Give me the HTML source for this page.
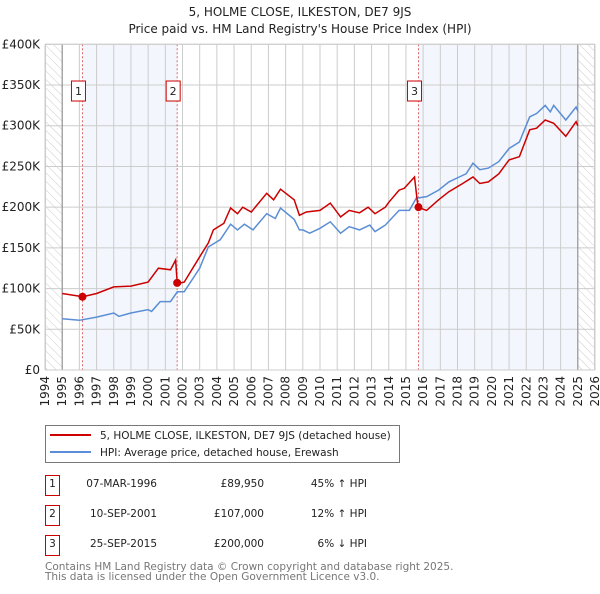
<!DOCTYPE html>
<html><head><meta charset="utf-8"><style>
body{margin:0;background:#fff;font-family:"DejaVu Sans","Liberation Sans",sans-serif;}
svg text{font-family:"DejaVu Sans","Liberation Sans",sans-serif;}
</style></head><body>
<svg id="c" width="600" height="590" viewBox="0 0 600 590" xmlns="http://www.w3.org/2000/svg">
<defs><pattern id="hatch" width="6" height="6" patternUnits="userSpaceOnUse" patternTransform="rotate(-45)"><line x1="0" y1="0" x2="0" y2="6" stroke="#ccc" stroke-width="1"/></pattern></defs>
<text x="300" y="16" text-anchor="middle" font-size="12" fill="#222">5, HOLME CLOSE, ILKESTON, DE7 9JS</text>
<text x="300" y="33" text-anchor="middle" font-size="12" fill="#222">Price paid vs. HM Land Registry's House Price Index (HPI)</text>
<g id="plot"></g>
<g>
<rect x="45.5" y="425.5" width="354" height="37" fill="#fff" stroke="#777"/>
<line x1="50" y1="435" x2="91" y2="435" stroke="#cc0000" stroke-width="2"/>
<text x="100" y="439" font-size="10.5" fill="#222">5, HOLME CLOSE, ILKESTON, DE7 9JS (detached house)</text>
<line x1="50" y1="452" x2="91" y2="452" stroke="#5b8ed6" stroke-width="2"/>
<text x="100" y="456" font-size="10.5" fill="#222">HPI: Average price, detached house, Erewash</text>
</g>
<g font-size="10.5" fill="#222">
<rect x="45.5" y="475.5" width="14" height="20" fill="#fff" stroke="#cc0000"/>
<text x="52.5" y="487" text-anchor="middle">1</text>
<text x="157" y="487" text-anchor="end">07-MAR-1996</text>
<text x="264" y="487" text-anchor="end">£89,950</text>
<text x="367" y="487" text-anchor="end">45% ↑ HPI</text>
<rect x="45.5" y="505.5" width="14" height="20" fill="#fff" stroke="#cc0000"/>
<text x="52.5" y="517" text-anchor="middle">2</text>
<text x="157" y="517" text-anchor="end">10-SEP-2001</text>
<text x="264" y="517" text-anchor="end">£107,000</text>
<text x="367" y="517" text-anchor="end">12% ↑ HPI</text>
<rect x="45.5" y="535.5" width="14" height="20" fill="#fff" stroke="#cc0000"/>
<text x="52.5" y="547" text-anchor="middle">3</text>
<text x="157" y="547" text-anchor="end">25-SEP-2015</text>
<text x="264" y="547" text-anchor="end">£200,000</text>
<text x="367" y="547" text-anchor="end">6% ↓ HPI</text>
</g>
<text x="45" y="570" font-size="10.5" fill="#777">Contains HM Land Registry data © Crown copyright and database right 2025.</text>
<text x="45" y="580" font-size="10.5" fill="#777">This data is licensed under the Open Government Licence v3.0.</text>
</svg>
<script>
const yTicks=[0,50,100,150,200,250,300,350,400];
const yTickLabels=["£0","£50K","£100K","£150K","£200K","£250K","£300K","£350K","£400K"];
const xYears=[1994,1995,1996,1997,1998,1999,2000,2001,2002,2003,2004,2005,2006,2007,2008,2009,2010,2011,2012,2013,2014,2015,2016,2017,2018,2019,2020,2021,2022,2023,2024,2025,2026];
const hpiT=[1995,1995.5,1996,1997,1998,1998.3,1999,2000,2000.2,2000.7,2001.3,2001.7,2002.1,2003,2003.5,2004.2,2004.8,2005.2,2005.6,2006.1,2006.9,2007.4,2007.7,2008.5,2008.8,2009,2009.4,2010,2010.6,2011.2,2011.7,2012.3,2012.9,2013.2,2013.8,2014.6,2015.2,2015.6,2016.2,2016.9,2017.5,2018.1,2018.5,2018.9,2019.3,2019.8,2020.4,2021,2021.6,2022.2,2022.6,2023.1,2023.4,2023.6,2024.3,2024.9,2025];
const hpiV=[63,62,61,65,70,66,70,74,72,84,84,96,96,125,151,160,179,172,179,172,192,186,199,185,172,172,168,174,182,168,176,172,178,170,178,196,196,211,213,221,231,237,241,254,246,248,256,272,280,311,315,325,317,325,307,323,318];
const priceT=[1995,1996.2,1997,1998,1999,2000,2000.6,2001.3,2001.6,2001.7,2002.1,2003,2003.5,2003.8,2004.4,2004.8,2005.2,2005.5,2006,2006.9,2007.3,2007.7,2008.5,2008.8,2009.2,2010,2010.6,2011.2,2011.7,2012.3,2012.8,2013.2,2013.8,2014,2014.6,2014.9,2015.5,2015.7,2016.2,2016.9,2017.5,2018.3,2018.9,2019.3,2019.8,2020.4,2021,2021.6,2022.2,2022.6,2023.1,2023.6,2024.3,2024.9,2025];
const priceV=[94,90,94,102,103,108,125,123,135,106,108,139,156,172,180,199,192,200,194,217,209,222,209,190,194,196,205,188,196,193,200,192,200,206,221,223,237,200,196,209,219,229,237,229,231,241,258,262,295,297,307,303,287,305,300];
const saleT=[1996.18,2001.69,2015.73];
const saleV=[89.95,107,200];
const saleLabels=["1","2","3"];
const X0=45,X1=595,Y0=370,Y1=44.3;
const x=t=>X0+(t-1994)/(2026-1994)*(X1-X0);
const y=v=>Y0-v/400*(Y0-Y1);
const NS="http://www.w3.org/2000/svg";
const g=document.getElementById('plot');
function mk(tag,at,parent){const e=document.createElementNS(NS,tag);for(const k in at)e.setAttribute(k,at[k]);(parent||g).appendChild(e);return e;}
let b1=mk('rect',{x:x(saleT[0]),y:Y1,width:x(saleT[1])-x(saleT[0]),height:Y0-Y1,fill:'#eef3fc',opacity:0.7});


let b2=mk('rect',{x:x(saleT[2]),y:Y1,width:x(2025)-x(saleT[2]),height:Y0-Y1,fill:'#eef3fc',opacity:0.7});


let h1=mk('rect',{x:X0,y:Y1,width:x(1995)-X0,height:Y0-Y1,fill:'url(#hatch)'});


let h2=mk('rect',{x:x(2025),y:Y1,width:X1-x(2025),height:Y0-Y1,fill:'url(#hatch)'});


xYears.forEach(t=>{let l=mk('line',{x1:x(t),x2:x(t),y1:Y1,y2:Y0,stroke:'#ccc','stroke-width':1});


let tx=mk('text',{x:0,y:0,'font-size':12,fill:'#222','text-anchor':'end',transform:`translate(${x(t)+4},${Y0+6}) rotate(-90)`});
tx.textContent=t;

});
yTicks.forEach((v,i)=>{let l=mk('line',{x1:X0,x2:X1,y1:y(v),y2:y(v),stroke:'#ccc','stroke-width':1});


let tx=mk('text',{x:40,y:y(v)+4,'font-size':12,fill:'#222','text-anchor':'end'});
tx.textContent=yTickLabels[i];

});
let v1=mk('line',{x1:x(1995),x2:x(1995),y1:Y1,y2:Y0,stroke:'#888','stroke-width':1});


let v2=mk('line',{x1:x(2025),x2:x(2025),y1:Y1,y2:Y0,stroke:'#888','stroke-width':1});


saleT.forEach((t,i)=>{let l=mk('line',{x1:x(t),x2:x(t),y1:Y1,y2:Y0,stroke:'#e06666','stroke-width':1,'stroke-dasharray':'2,2'});


let r=mk('rect',{x:x(t)-11,y:y(350)-4,width:14,height:20,fill:'#fff',stroke:'#cc0000'});


let tx=mk('text',{x:x(t)-4,y:y(350)+10,'font-size':11,fill:'#222','text-anchor':'middle'});
tx.textContent=saleLabels[i];

});
const path=(T,V)=>T.map((t,i)=>(i?'L':'M')+x(t).toFixed(1)+','+y(V[i]).toFixed(1)).join('');
let hp=mk('path',{d:path(hpiT,hpiV),fill:'none',stroke:'#5b8ed6','stroke-width':1.5});


let pp=mk('path',{d:path(priceT,priceV),fill:'none',stroke:'#cc0000','stroke-width':1.5});


saleT.forEach((t,i)=>{let c=mk('circle',{cx:x(t),cy:y(saleV[i]),r:4,fill:'#cc0000'});

});
let fr=mk('rect',{x:X0+0.5,y:Y1,width:X1-X0-1,height:Y0-Y1,fill:'none',stroke:'#ccc'});


</script>
</body></html>
